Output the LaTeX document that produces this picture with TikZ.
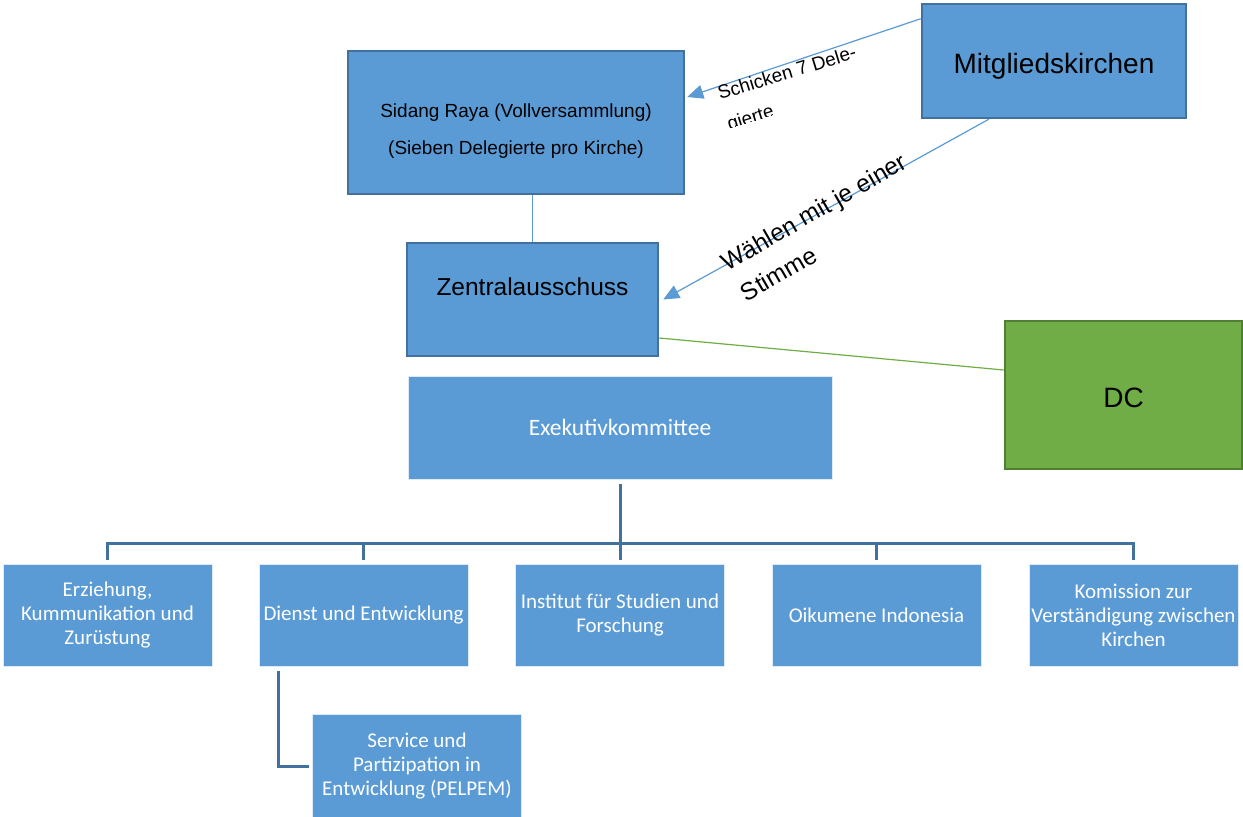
\documentclass[tikz,border=0pt]{standalone}
\usepackage{fontspec}
\setmainfont{Liberation Sans}
\newfontfamily\calfont{Carlito}
\usetikzlibrary{arrows.meta}
\definecolor{boxblue}{HTML}{5B9BD5}
\definecolor{boxedge}{HTML}{41719C}
\definecolor{boxgreen}{HTML}{70AD47}
\definecolor{greenedge}{HTML}{507E32}
\begin{document}
\begin{tikzpicture}[x=1pt,y=-1pt,
 topbox/.style={draw=boxedge, line width=2.5pt, fill=boxblue, inner sep=0pt},
 subbox/.style={fill=boxblue, draw=white!80!boxblue, line width=1pt, text=white,
   font=\calfont\fontsize{21}{24}\selectfont, align=center,
   minimum width=209pt, minimum height=102pt, inner sep=0pt},
 thinline/.style={draw=boxblue, line width=1.2pt},
 tree/.style={draw=boxedge, line width=3pt},
 arr/.style={thinline, -{Triangle[length=16pt,width=14pt]}}]
\fill[white] (0,0) rectangle (1243,817);
\useasboundingbox (0,0) rectangle (1243,817);

% top boxes
\node[topbox, minimum width=336pt, minimum height=143pt] (sr) at (516,122.5) {};
\node[font=\fontsize{19}{37}\selectfont, align=center] (srt) at (516,131.5)
  {Sidang Raya (Vollversammlung)\\(Sieben Delegierte pro Kirche)};
\node[topbox, minimum width=264pt, minimum height=114pt] (mit) at (1054,61) {};
\node[font=\fontsize{28}{34}\selectfont] (mitt) at (1054,66) {Mitgliedskirchen};
\node[topbox, minimum width=251pt, minimum height=113pt] (za) at (532.5,299.5) {};
\node[font=\fontsize{24.5}{30}\selectfont] (zat) at (532.5,287) {Zentralausschuss};
\node[draw=greenedge, line width=2.5pt, fill=boxgreen, minimum width=237pt,
  minimum height=148pt] (dc) at (1123.5,395) {};
\node[font=\fontsize{28}{34}\selectfont] (dct) at (1123.5,398) {DC};

% executive and departments
\node[subbox, minimum width=424pt, minimum height=103pt,
  font=\calfont\fontsize{23.5}{28}\selectfont] (ex) at (620,427.5) {Exekutivkommittee};
\node[subbox] (b1) at (107.5,615) {Erziehung,\\Kummunikation und\\Zurüstung};
\node[subbox] (b2) at (363.5,615) {Dienst und Entwicklung};
\node[subbox] (b3) at (620,615) {Institut für Studien und\\Forschung};
\node[subbox] (b4) at (876.5,615) {Oikumene Indonesia};
\node[subbox] (b5) at (1133.5,615) {Komission zur\\Verständigung zwischen\\Kirchen};
\node[subbox, minimum height=104pt] (pel) at (417,766)
  {Service und\\Partizipation in\\Entwicklung (PELPEM)};

% tree connectors
\coordinate (bus) at (620,543);
\draw[tree] ([yshift=-4pt]ex.south) -- (bus);
\foreach \b in {b1,b2,b3,b4,b5}
  \draw[tree] ([yshift=4pt]\b.north) |- (bus);
\draw[tree] ([xshift=20pt,yshift=-4pt]b2.south west) |- ([xshift=-3pt]pel.west);

% thin connectors
\draw[thinline] (sr.south -| za.north) -- (za.north);
\draw[arr] ([yshift=-16pt]mit.north west) -- ([xshift=2pt,yshift=25.5pt]sr.east);
\draw[arr] ([xshift=68pt]mit.south west) -- ([xshift=4pt]za.east);
\draw[draw=boxgreen, line width=1.2pt] ([yshift=-38.5pt]za.east) -- ([yshift=25pt]dc.west);

% rotated labels
\begin{scope}[shift={(720,100)}, rotate=17, transform shape]
  \clip (-5,-30) rectangle (170,29.5);
  \node[anchor=base west, inner sep=0pt, font=\fontsize{19}{23}\selectfont] (l1a) at (0,0) {Schicken 7 Dele-};
  \node[anchor=base west, inner sep=0pt, font=\fontsize{19}{23}\selectfont] (l1b) at (0,32) {gierte};
\end{scope}
\begin{scope}[shift={(727,272)}, rotate=30, transform shape]
  \node[anchor=base west, inner sep=0pt, font=\fontsize{24.5}{30}\selectfont] (l2a) at (0,0) {Wählen mit je einer};
  \node[anchor=base west, inner sep=0pt, font=\fontsize{24.5}{30}\selectfont] (l2b) at (2,36) {Stimme};
\end{scope}
\end{tikzpicture}
\end{document}
